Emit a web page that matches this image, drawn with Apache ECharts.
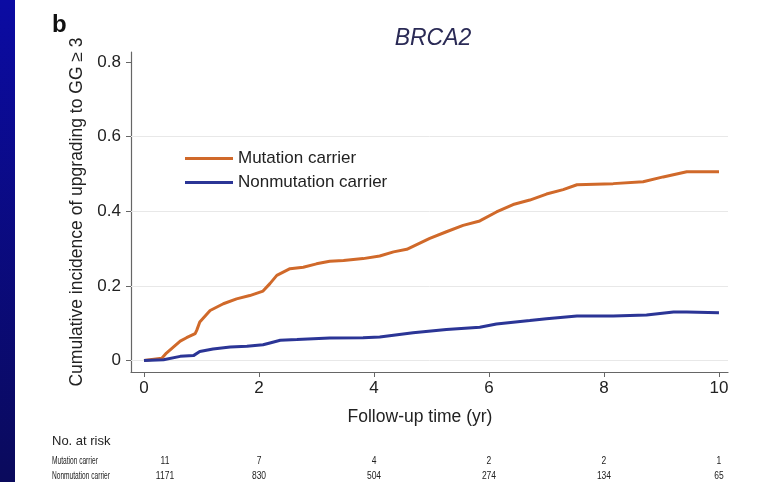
<!DOCTYPE html>
<html>
<head>
<meta charset="utf-8">
<script src="https://cdn.jsdelivr.net/npm/echarts@6/dist/echarts.min.js"></script>
<style>html,body{margin:0;padding:0;background:#fff}#c{width:773px;height:482px}</style>
</head>
<body>
<div id="c"></div>
<script>
// ---- data ----
var seriesNames = ['Mutation carrier', 'Nonmutation carrier'];
var mutationT = [0, 0.31, 0.39, 0.63, 0.74, 0.89, 0.92, 0.97, 1.15, 1.38, 1.61, 1.84, 2.07, 2.19, 2.31, 2.54, 2.77, 3.0, 3.23, 3.47, 3.81, 4.1, 4.34, 4.57, 4.97, 5.26, 5.55, 5.84, 6.13, 6.42, 6.71, 7.0, 7.29, 7.53, 8.16, 8.68, 9.03, 9.44, 10.0];
var mutationY = [0, 0.006, 0.02, 0.052, 0.061, 0.072, 0.082, 0.103, 0.134, 0.152, 0.165, 0.174, 0.186, 0.206, 0.228, 0.246, 0.25, 0.259, 0.266, 0.268, 0.273, 0.28, 0.291, 0.298, 0.327, 0.345, 0.362, 0.374, 0.398, 0.418, 0.43, 0.446, 0.458, 0.471, 0.474, 0.479, 0.492, 0.506, 0.506];
var nonmutT = [0, 0.34, 0.63, 0.86, 0.97, 1.2, 1.5, 1.79, 2.07, 2.19, 2.37, 2.66, 3.23, 3.81, 4.1, 4.68, 5.26, 5.84, 6.13, 6.71, 7.0, 7.53, 8.16, 8.74, 9.21, 9.44, 10.0];
var nonmutY = [0, 0.002, 0.011, 0.013, 0.024, 0.031, 0.036, 0.038, 0.042, 0.047, 0.054, 0.056, 0.06, 0.061, 0.063, 0.074, 0.083, 0.089, 0.098, 0.107, 0.112, 0.119, 0.119, 0.122, 0.13, 0.13, 0.128];
var xTicks = [0, 2, 4, 6, 8, 10];
var yTicks = [0, 0.2, 0.4, 0.6, 0.8];
var gridLines = [0, 0.2, 0.4, 0.6];
var riskTimes = [0, 2, 4, 6, 8, 10];
var riskMutation = [11, 7, 4, 2, 2, 1];
var riskNonmut = [1171, 830, 504, 274, 134, 65];

var colors = ['#d0692a', '#2b3596'];
function pairs(t, y) { return t.map(function (v, i) { return [v, y[i]]; }); }

var chart = echarts.init(document.getElementById('c'), null, { renderer: 'canvas' });
var font = '"Liberation Sans", Arial, sans-serif';

var option = {
  backgroundColor: '#fff',
  animation: false,
  grid: { left: 131, right: 45, top: 52, bottom: 110, containLabel: false },
  xAxis: {
    type: 'value', min: -0.2261, max: 10.157,
    name: 'Follow-up time (yr)', nameLocation: 'middle', nameGap: 36,
    nameTextStyle: { fontFamily: font, fontSize: 17.5, color: '#222', padding: [0, 19, 0, 0] },
    axisLine: { show: true, onZero: false, lineStyle: { color: '#666', width: 1.2 } },
    axisTick: { show: true, length: 5, lineStyle: { color: '#666' }, customValues: xTicks },
    axisLabel: { customValues: xTicks, fontFamily: font, fontSize: 17, color: '#222', margin: 8 },
    splitLine: { show: false }
  },
  yAxis: {
    type: 'value', min: -0.0309, max: 0.8268,
    name: 'Cumulative incidence of upgrading to GG \u2265 3', nameLocation: 'middle', nameGap: 44,
    nameTextStyle: { fontFamily: font, fontSize: 17.5, color: '#222' },
    axisLine: { show: true, onZero: false, lineStyle: { color: '#666', width: 1.2 } },
    axisTick: { show: true, length: 5, lineStyle: { color: '#666' }, customValues: yTicks },
    axisLabel: { customValues: yTicks, fontFamily: font, fontSize: 17, color: '#222', margin: 10,
      formatter: function (v) { return v === 0 ? '0' : v.toFixed(1); } },
    splitLine: { show: false }
  },
  legend: {
    orient: 'vertical', left: 180, top: 145, itemGap: 7,
    itemWidth: 48, itemHeight: 3, icon: 'rect',
    textStyle: { fontFamily: font, fontSize: 17, color: '#222', padding: [0, 0, 0, 0] },
    data: seriesNames
  },
  series: [
    {
      name: seriesNames[0], type: 'line', data: pairs(mutationT, mutationY),
      showSymbol: false, symbol: 'none', lineStyle: { color: colors[0], width: 3 }, itemStyle: { color: colors[0] },
      markLine: {
        silent: true, symbol: 'none', label: { show: false },
        lineStyle: { color: '#e8e8e8', width: 1, type: 'solid' },
        data: gridLines.map(function (v) { return { yAxis: v }; }),
        z: 1
      },
      z: 3
    },
    {
      name: seriesNames[1], type: 'line', data: pairs(nonmutT, nonmutY),
      showSymbol: false, symbol: 'none', lineStyle: { color: colors[1], width: 3 }, itemStyle: { color: colors[1] },
      z: 3
    }
  ]
};
chart.setOption(option);

function smallText(str, x, y, align, sx) {
  return { type: 'text', x: x, y: y, scaleX: sx,
    style: { text: str, x: 0, y: 0, font: '10px ' + font, fill: '#222', textAlign: align || 'left', textVerticalAlign: 'middle' } };
}
var g = [
  { type: 'rect', shape: { x: 0, y: 0, width: 15, height: 482 }, style: { fill: new echarts.graphic.LinearGradient(0, 0, 0, 1, [{ offset: 0, color: '#0b0ba3' }, { offset: 1, color: '#0a0a5c' }]) }, z: 10 },
  { type: 'text', left: 52, top: 13, style: { text: 'b', font: 'bold 24px ' + font, fill: '#111' } },
  { type: 'text', x: 433, y: 39, style: { text: 'BRCA2', font: 'italic 23px ' + font, fill: '#2a2a55', textAlign: 'center', textVerticalAlign: 'middle' } },
  { type: 'text', x: 52, y: 441, style: { text: 'No. at risk', font: '13px ' + font, fill: '#222', textVerticalAlign: 'middle' } }
];
g.push(smallText(seriesNames[0], 52, 461, 'left', 0.66));
g.push(smallText(seriesNames[1], 52, 476, 'left', 0.66));
riskTimes.forEach(function (t, i) {
  var px = chart.convertToPixel({ xAxisIndex: 0 }, t);
  if (i === 0) px += 21;
  g.push(smallText(String(riskMutation[i]), px, 461, 'center', 0.85));
  g.push(smallText(String(riskNonmut[i]), px, 476, 'center', 0.85));
});
chart.setOption({ graphic: g });
</script>
</body>
</html>
